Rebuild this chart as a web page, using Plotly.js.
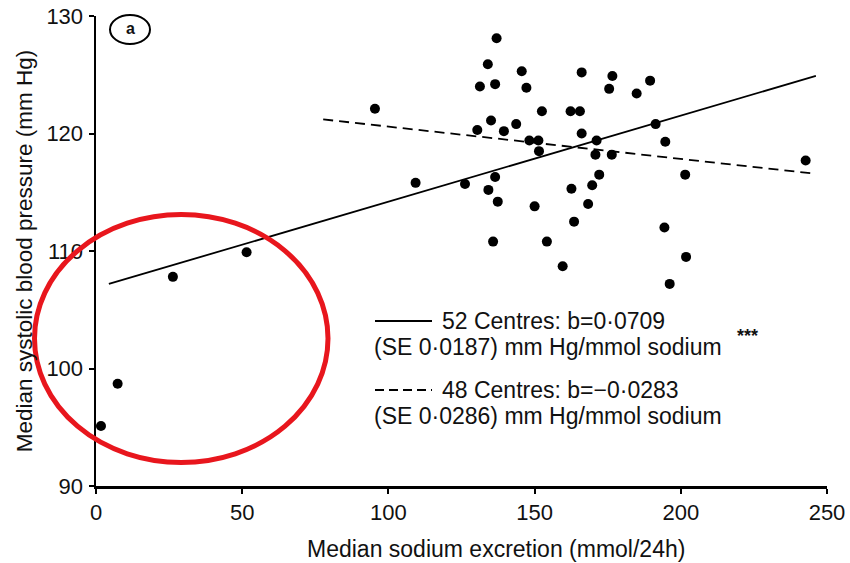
<!DOCTYPE html>
<html>
<head>
<meta charset="utf-8">
<script src="https://cdn.plot.ly/plotly-3.0.1.min.js"></script>
<style>html,body{margin:0;padding:0;background:#fff;}#chart{width:850px;height:563px;}</style>
</head>
<body>
<div id="chart"></div>
<script>
// Centre medians: sodium excretion (mmol/24h) and systolic blood pressure (mm Hg)
const sodium = [1.7, 7.4, 26.3, 51.5,
  95.4, 137.0, 134.0, 145.6, 166.1, 176.6, 189.5, 131.3, 136.5, 147.2, 175.5, 184.9,
  152.5, 162.3, 165.5, 135.1, 143.7, 130.4, 139.5, 166.1, 148.2, 151.3, 151.5, 171.2,
  170.8, 176.4, 191.4, 109.3, 126.2, 136.5, 134.2, 137.4, 172.1, 169.7, 162.6, 150.0,
  168.3, 163.5, 135.8, 154.2, 159.6, 194.7, 201.5, 242.7, 194.4, 201.8, 196.2];
const systolic = [95.1, 98.7, 107.8, 109.9,
  122.1, 128.1, 125.9, 125.3, 125.2, 124.9, 124.5, 124.0, 124.2, 123.9, 123.8, 123.4,
  121.9, 121.9, 121.9, 121.1, 120.8, 120.3, 120.2, 120.0, 119.4, 119.4, 118.5, 119.4,
  118.2, 118.2, 120.8, 115.8, 115.7, 116.3, 115.2, 114.2, 116.5, 115.6, 115.3, 113.8,
  114.0, 112.5, 110.8, 110.8, 108.7, 119.3, 116.5, 117.7, 112.0, 109.5, 107.2];

// Regression lines
const fit52X = [4.4, 246.2];
const fit52Y = [107.2, 124.9];
const fit48X = [77.7, 245.1];
const fit48Y = [121.2, 116.6];

const xTicks = [0, 50, 100, 150, 200, 250];
const yTicks = [90, 100, 110, 120, 130];

const legend52 = ["52 Centres: b=0·0709", "(SE 0·0187) mm Hg/mmol sodium"];
const legend48 = ["48 Centres: b=\u22120·0283", "(SE 0·0286) mm Hg/mmol sodium"];

const FONT = "Liberation Sans, Arial, sans-serif";

// layout geometry (pixels)
const W = 850, H = 563, L = 96, R = 23, T = 16, B = 77;
const pw = W - L - R, ph = H - T - B;
const px = v => (v - L) / pw;          // pixel x -> paper
const py = v => (H - B - v) / ph;      // pixel y -> paper

const traces = [
  {x: fit52X, y: fit52Y, type: 'scatter', mode: 'lines', name: '52 Centres',
   line: {color: '#000', width: 1.8}, hoverinfo: 'skip'},
  {x: fit48X, y: fit48Y, type: 'scatter', mode: 'lines', name: '48 Centres',
   line: {color: '#000', width: 1.8, dash: '10px,6px'}, hoverinfo: 'skip'},
  {x: sodium, y: systolic, type: 'scatter', mode: 'markers', name: 'Centres',
   marker: {color: '#000', size: 10}, cliponaxis: false}
];

const annotations = [
  {text: 'Median sodium excretion (mmol/24h)', xref: 'paper', yref: 'paper',
   x: px(496), y: py(549), xanchor: 'center', yanchor: 'middle', showarrow: false,
   font: {family: FONT, size: 23, color: '#111'}},
  {text: legend52[0], xref: 'paper', yref: 'paper', x: px(440), y: py(321),
   xanchor: 'left', yanchor: 'middle', showarrow: false, font: {family: FONT, size: 23, color: '#111'}},
  {text: legend52[1], xref: 'paper', yref: 'paper', x: px(372), y: py(347),
   xanchor: 'left', yanchor: 'middle', showarrow: false, font: {family: FONT, size: 23, color: '#111'}},
  {text: '<b>***</b>', xref: 'paper', yref: 'paper', x: px(735), y: py(336),
   xanchor: 'left', yanchor: 'middle', showarrow: false, font: {family: FONT, size: 18, color: '#111'}},
  {text: legend48[0], xref: 'paper', yref: 'paper', x: px(440), y: py(390),
   xanchor: 'left', yanchor: 'middle', showarrow: false, font: {family: FONT, size: 23, color: '#111'}},
  {text: legend48[1], xref: 'paper', yref: 'paper', x: px(372), y: py(416),
   xanchor: 'left', yanchor: 'middle', showarrow: false, font: {family: FONT, size: 23, color: '#111'}},
  {text: '<b>a</b>', xref: 'paper', yref: 'paper', x: px(130), y: py(29),
   xanchor: 'center', yanchor: 'middle', showarrow: false, font: {family: FONT, size: 16, color: '#111'}}
];

const shapes = [
  {type: 'line', xref: 'paper', yref: 'paper', x0: px(375), x1: px(432), y0: py(321), y1: py(321),
   line: {color: '#000', width: 1.8}},
  {type: 'line', xref: 'paper', yref: 'paper', x0: px(375), x1: px(432), y0: py(390), y1: py(390),
   line: {color: '#000', width: 1.8, dash: '9px,5px'}},
  {type: 'circle', xref: 'paper', yref: 'paper', x0: px(110), x1: px(150), y0: py(44), y1: py(15),
   line: {color: '#000', width: 2}},
  {type: 'circle', xref: 'paper', yref: 'paper', x0: px(34.5), x1: px(328), y0: py(462.5), y1: py(214.5),
   line: {color: '#e8161d', width: 5}}
];

const layout = {
  width: W, height: H,
  margin: {l: L, r: R, t: T, b: B},
  paper_bgcolor: '#fff', plot_bgcolor: '#fff',
  showlegend: false,
  font: {family: FONT, color: '#111'},
  xaxis: {
    range: [0, 250], tickvals: xTicks, ticktext: xTicks.map(String),
    showgrid: false, zeroline: false, showline: true, linecolor: '#000', linewidth: 2.5,
    ticks: 'outside', ticklen: 5, tickwidth: 2, tickcolor: '#000',
    tickfont: {family: FONT, size: 22, color: '#111'}, ticklabelstandoff: 0
  },
  yaxis: {
    range: [90, 130], tickvals: yTicks, ticktext: yTicks.map(String),
    showgrid: false, zeroline: false, showline: true, linecolor: '#000', linewidth: 2.5,
    ticks: 'outside', ticklen: 5, tickwidth: 2, tickcolor: '#000',
    tickfont: {family: FONT, size: 22, color: '#111'}, ticklabelstandoff: 1,
    title: {text: 'Median systolic blood pressure (mm Hg)', font: {family: FONT, size: 22.5, color: '#111'}, standoff: 8}
  },
  annotations: annotations,
  shapes: shapes
};

Plotly.newPlot('chart', traces, layout, {staticPlot: true, displayModeBar: false});
</script>
</body>
</html>
